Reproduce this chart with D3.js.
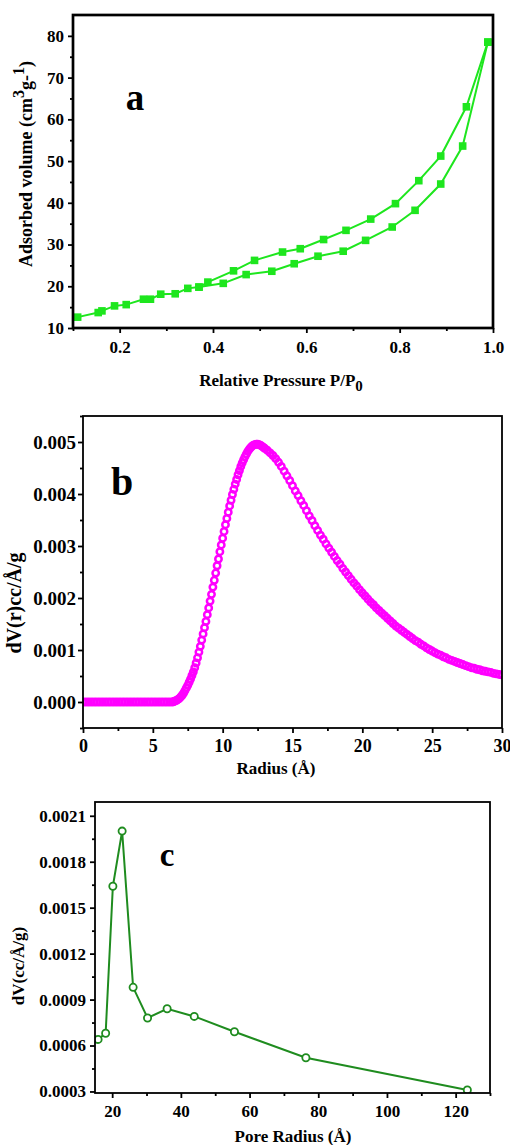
<!DOCTYPE html>
<html>
<head>
<meta charset="utf-8">
<script src="https://cdn.jsdelivr.net/npm/d3@7"></script>
<style>
  body { margin: 0; background: #fff; }
</style>
</head>
<body>
<div id="chart"></div>
<script>
// ---- panel a: N2 isotherm ----
let adsP = [0.11, 0.154, 0.162, 0.189, 0.214, 0.251, 0.266, 0.288, 0.319, 0.346, 0.37,
    0.422, 0.471, 0.526, 0.574, 0.625, 0.679, 0.727, 0.784, 0.833, 0.888, 0.935, 0.989];
let adsV = [12.6, 13.7, 14.1, 15.3, 15.6, 16.9, 16.9, 18.1, 18.2, 19.5, 19.8,
    20.7, 22.8, 23.6, 25.4, 27.2, 28.4, 31.0, 34.2, 38.2, 44.5, 53.6, 78.5];
let desP = [0.989, 0.943, 0.888, 0.841, 0.791, 0.738, 0.685, 0.637, 0.587, 0.549, 0.489, 0.444, 0.389, 0.37];
let desV = [78.5, 63.0, 51.2, 45.3, 39.8, 36.1, 33.4, 31.2, 29.0, 28.2, 26.2, 23.7, 21.0, 19.8];
let aXTicks = [0.2, 0.4, 0.6, 0.8, 1.0];
let aYTicks = [10, 20, 30, 40, 50, 60, 70, 80];

// ---- panel b: pore size distribution (dense) ----
let bRadius = [
    0, 0.2, 0.4, 0.6, 0.8, 1, 1.2, 1.4, 1.6, 1.8,
    2, 2.2, 2.4, 2.6, 2.8, 3, 3.2, 3.4, 3.6, 3.8,
    4, 4.2, 4.4, 4.6, 4.8, 5, 5.2, 5.4, 5.6, 5.8,
    6, 6.2,
    6.4, 6.5, 6.6, 6.7, 6.8, 6.9, 7, 7.1, 7.2, 7.3,
    7.4, 7.5, 7.6, 7.7, 7.8, 7.9, 8, 8.1, 8.2, 8.3,
    8.4, 8.5, 8.6, 8.7, 8.8, 8.9, 9, 9.1, 9.2, 9.3,
    9.4, 9.5, 9.6, 9.7, 9.8, 9.9, 10, 10.1, 10.2, 10.3,
    10.4, 10.5, 10.6, 10.7, 10.8, 10.9, 11, 11.1, 11.2, 11.3,
    11.4, 11.5, 11.6, 11.7, 11.8, 11.9, 12, 12.1, 12.2, 12.3,
    12.4, 12.5, 12.6, 12.7, 12.8, 12.9,
    13, 13.2, 13.4, 13.6, 13.8, 14, 14.2, 14.4, 14.6, 14.8,
    15, 15.2, 15.4, 15.6, 15.8, 16, 16.2, 16.4, 16.6, 16.8,
    17, 17.2, 17.4, 17.6, 17.8, 18, 18.2, 18.4, 18.6, 18.8,
    19, 19.2, 19.4, 19.6, 19.8, 20, 20.2, 20.4, 20.6, 20.8,
    21, 21.2, 21.4, 21.6, 21.8, 22, 22.2, 22.4, 22.6, 22.8,
    23, 23.2, 23.4, 23.6, 23.8, 24, 24.2, 24.4, 24.6, 24.8,
    25, 25.2, 25.4, 25.6, 25.8, 26, 26.2, 26.4, 26.6, 26.8,
    27, 27.2, 27.4, 27.6, 27.8, 28, 28.2, 28.4, 28.6, 28.8,
    29, 29.2, 29.4, 29.6, 29.8, 30
];
let bDV = [
    0, 0, 0, 0, 0, 0, 0, 0, 0, 0,
    0, 0, 0, 0, 0, 0, 0, 0, 0, 0,
    0, 0, 0, 0, 0, 0, 0, 0, 0, 0,
    0, 0,
    0, 0.00001, 0.00002, 0.00003, 0.00005, 0.00007, 0.00010, 0.00013, 0.00017, 0.00022,
    0.00027, 0.00032, 0.00038, 0.00044, 0.00051, 0.00058, 0.00066, 0.00075, 0.00085, 0.00096,
    0.00107, 0.00119, 0.00131, 0.00143, 0.00155, 0.00168, 0.00181, 0.00194, 0.00207, 0.00221,
    0.00234, 0.00248, 0.00262, 0.00275, 0.00289, 0.00302, 0.00315, 0.00328, 0.00341, 0.00353,
    0.00365, 0.00377, 0.00388, 0.00399, 0.00409, 0.00419, 0.00428, 0.00437, 0.00445, 0.00453,
    0.00460, 0.00466, 0.00472, 0.00477, 0.00482, 0.00486, 0.00489, 0.00492, 0.00494, 0.00495,
    0.00496, 0.00496, 0.00495, 0.00494, 0.00492, 0.00490,
    0.00488, 0.00484, 0.00479, 0.00474, 0.00468, 0.00461, 0.00453, 0.00444, 0.00435, 0.00426,
    0.00416, 0.00406, 0.00397, 0.00387, 0.00378, 0.00368, 0.00358, 0.00349, 0.00339, 0.00330,
    0.00321, 0.00313, 0.00304, 0.00296, 0.00288, 0.00280, 0.00272, 0.00265, 0.00257, 0.00250,
    0.00243, 0.00236, 0.00229, 0.00223, 0.00216, 0.00210, 0.00204, 0.00198, 0.00192, 0.00187,
    0.00181, 0.00176, 0.00171, 0.00166, 0.00161, 0.00156, 0.00151, 0.00146, 0.00142, 0.00138,
    0.00134, 0.00130, 0.00126, 0.00122, 0.00118, 0.00115, 0.00111, 0.00108, 0.00104, 0.00101,
    0.00098, 0.00095, 0.00092, 0.00090, 0.00087, 0.00085, 0.00082, 0.00080, 0.00078, 0.00076,
    0.00074, 0.00072, 0.00070, 0.00068, 0.00066, 0.00065, 0.00063, 0.00062, 0.00060, 0.00059,
    0.00058, 0.00057, 0.00055, 0.00054, 0.00053, 0.00052
];
let bXTicks = [0, 5, 10, 15, 20, 25, 30];
let bYTicks = [0, 0.001, 0.002, 0.003, 0.004, 0.005];

// ---- panel c: BJH pore radius ----
let cRadius = [15.9, 18.1, 20.2, 22.9, 26.1, 30.3, 36.0, 43.9, 55.6, 76.4, 123.4];
let cDV = [0.00064, 0.00068, 0.00164, 0.00200, 0.00098, 0.00078, 0.00084, 0.00079, 0.00069, 0.00052, 0.00031];
let cXTicks = [20, 40, 60, 80, 100, 120];
let cYTicks = [0.0003, 0.0006, 0.0009, 0.0012, 0.0015, 0.0018, 0.0021];

const FONT = '"Liberation Serif", "Times New Roman", serif';

let svg = d3.select('#chart').append('svg')
    .attr('width', 510)
    .attr('height', 1145)
    .style('font-family', FONT)
    .style('font-weight', 'bold');

function panel(cfg) {
    let g = svg.append('g');
    let x = d3.scaleLinear().domain(cfg.xDomain).range([cfg.left, cfg.right]);
    let y = d3.scaleLinear().domain(cfg.yDomain).range([cfg.bottom, cfg.top]);

    let styleAxis = (s, fs) => {
        s.select('.domain').remove();
        s.attr('font-family', FONT).attr('font-size', fs).attr('font-weight', 'bold');
        s.selectAll('line').attr('stroke', '#000').attr('stroke-width', 1.8);
        s.selectAll('text').attr('fill', '#000');
    };

    // minor ticks
    g.append('g').attr('transform', `translate(0,${cfg.bottom})`)
        .call(d3.axisBottom(x).tickValues(cfg.xMinor).tickSize(3).tickFormat(''))
        .call(styleAxis, cfg.xFont);
    g.append('g').attr('transform', `translate(${cfg.left},0)`)
        .call(d3.axisLeft(y).tickValues(cfg.yMinor).tickSize(3).tickFormat(''))
        .call(styleAxis, cfg.yFont);

    // major ticks + labels
    g.append('g').attr('transform', `translate(0,${cfg.bottom})`)
        .call(d3.axisBottom(x).tickValues(cfg.xTicks).tickSize(5).tickFormat(cfg.xFmt))
        .call(styleAxis, cfg.xFont)
        .call(s => s.selectAll('text').attr('dy', null).attr('y', cfg.xLabelOffset));
    g.append('g').attr('transform', `translate(${cfg.left},0)`)
        .call(d3.axisLeft(y).tickValues(cfg.yTicks).tickSize(5).tickPadding(cfg.yPad).tickFormat(cfg.yFmt))
        .call(styleAxis, cfg.yFont);

    let clipId = 'clip-' + cfg.id;
    svg.append('clipPath').attr('id', clipId)
        .append('rect')
        .attr('x', cfg.left).attr('y', cfg.top)
        .attr('width', cfg.right - cfg.left).attr('height', cfg.bottom - cfg.top);

    let plot = g.append('g').attr('clip-path', `url(#${clipId})`);

    return { g, plot, x, y };
}

function frame(p, cfg) {
    p.g.append('rect')
        .attr('x', cfg.left).attr('y', cfg.top)
        .attr('width', cfg.right - cfg.left).attr('height', cfg.bottom - cfg.top)
        .attr('fill', 'none')
        .attr('stroke', '#000')
        .attr('stroke-width', cfg.frameWidth);
}

// ================= a =================
let aCfg = {
    id: 'a', left: 73, right: 493, top: 15, bottom: 328,
    xDomain: [0.1, 1.0], yDomain: [10, 85],
    xTicks: aXTicks, xMinor: [0.1, 0.3, 0.5, 0.7, 0.9],
    yTicks: aYTicks, yMinor: [15, 25, 35, 45, 55, 65, 75],
    xFmt: d3.format('.1f'), yFmt: d3.format('d'),
    xFont: 17, yFont: 17, yPad: 4, xLabelOffset: 25, frameWidth: 2.7
};
let pa = panel(aCfg);
let aGreen = '#1ee61e';
let aLine = d3.line().x(d => pa.x(d[0])).y(d => pa.y(d[1]));
let adsData = adsP.map((p, i) => [p, adsV[i]]);
let desData = desP.map((p, i) => [p, desV[i]]);
[adsData, desData].forEach(series => {
    pa.plot.append('path')
        .datum(series)
        .attr('d', aLine)
        .attr('fill', 'none')
        .attr('stroke', aGreen)
        .attr('stroke-width', 2);
    pa.plot.selectAll(null).data(series).enter()
        .append('rect')
        .attr('x', d => pa.x(d[0]) - 3.8)
        .attr('y', d => pa.y(d[1]) - 3.8)
        .attr('width', 7.6)
        .attr('height', 7.6)
        .attr('fill', aGreen);
});
frame(pa, aCfg);

pa.g.append('text')
    .attr('x', 135).attr('y', 110)
    .attr('text-anchor', 'middle')
    .attr('font-size', 37)
    .text('a');

let aYTitle = pa.g.append('text')
    .attr('transform', 'translate(32,164) rotate(-90)')
    .attr('text-anchor', 'middle')
    .attr('font-size', 18);
aYTitle.append('tspan').text('Adsorbed volume (cm');
aYTitle.append('tspan').attr('dy', -8).attr('font-size', 16).text('3');
aYTitle.append('tspan').attr('dy', 8).text('g-');
aYTitle.append('tspan').attr('dy', -8).attr('font-size', 16).text('1');
aYTitle.append('tspan').attr('dy', 8).text(')');

let aXTitle = pa.g.append('text')
    .attr('x', 281).attr('y', 386)
    .attr('text-anchor', 'middle')
    .attr('font-size', 17);
aXTitle.append('tspan').text('Relative Pressure P/P');
aXTitle.append('tspan').attr('dy', 5).attr('font-size', 15).text('0');

// ================= b =================
let bCfg = {
    id: 'b', left: 83, right: 502, top: 416, bottom: 728,
    xDomain: [0, 30], yDomain: [-0.0005, 0.0055],
    xTicks: bXTicks, xMinor: [2.5, 7.5, 12.5, 17.5, 22.5, 27.5],
    yTicks: bYTicks, yMinor: [-0.0005, 0.0005, 0.0015, 0.0025, 0.0035, 0.0045, 0.0055],
    xFmt: d3.format('d'), yFmt: d3.format('.3f'),
    xFont: 18, yFont: 19, yPad: 2, xLabelOffset: 24, frameWidth: 1.8
};
let pb = panel(bCfg);
pb.plot.selectAll('circle').data(bRadius).enter()
    .append('circle')
    .attr('cx', d => pb.x(d))
    .attr('cy', (d, i) => pb.y(bDV[i]))
    .attr('r', 3.2)
    .attr('fill', 'none')
    .attr('stroke', '#ff00ff')
    .attr('stroke-width', 2.5);
frame(pb, bCfg);

pb.g.append('text')
    .attr('x', 122).attr('y', 495)
    .attr('text-anchor', 'middle')
    .attr('font-size', 40)
    .text('b');

pb.g.append('text')
    .attr('transform', 'translate(21,603) rotate(-90)')
    .attr('text-anchor', 'middle')
    .attr('font-size', 20)
    .text('dV(r)cc/Å/g');

pb.g.append('text')
    .attr('x', 276).attr('y', 774)
    .attr('text-anchor', 'middle')
    .attr('font-size', 17)
    .text('Radius (Å)');

// ================= c =================
let cCfg = {
    id: 'c', left: 95, right: 490, top: 802, bottom: 1093,
    xDomain: [15, 130], yDomain: [0.00029, 0.00219],
    xTicks: cXTicks, xMinor: [30, 50, 70, 90, 110, 130],
    yTicks: cYTicks, yMinor: [0.00045, 0.00075, 0.00105, 0.00135, 0.00165, 0.00195],
    xFmt: d3.format('d'), yFmt: d3.format('.4f'),
    xFont: 17, yFont: 17, yPad: 4, xLabelOffset: 24, frameWidth: 1.8
};
let pc = panel(cCfg);
let cGreen = '#1f8c1f';
let cData = cRadius.map((r, i) => [r, cDV[i]]);
pc.plot.append('path')
    .datum(cData)
    .attr('d', d3.line().x(d => pc.x(d[0])).y(d => pc.y(d[1])))
    .attr('fill', 'none')
    .attr('stroke', cGreen)
    .attr('stroke-width', 2);
pc.plot.selectAll('circle').data(cData).enter()
    .append('circle')
    .attr('cx', d => pc.x(d[0]))
    .attr('cy', d => pc.y(d[1]))
    .attr('r', 3.6)
    .attr('fill', '#fff')
    .attr('stroke', cGreen)
    .attr('stroke-width', 1.8);
frame(pc, cCfg);

pc.g.append('text')
    .attr('x', 167).attr('y', 866)
    .attr('text-anchor', 'middle')
    .attr('font-size', 33)
    .text('c');

pc.g.append('text')
    .attr('transform', 'translate(24,966) rotate(-90)')
    .attr('text-anchor', 'middle')
    .attr('font-size', 17)
    .text('dV(cc/Å/g)');

pc.g.append('text')
    .attr('x', 293).attr('y', 1142)
    .attr('text-anchor', 'middle')
    .attr('font-size', 17)
    .text('Pore Radius (Å)');
</script>
</body>
</html>
